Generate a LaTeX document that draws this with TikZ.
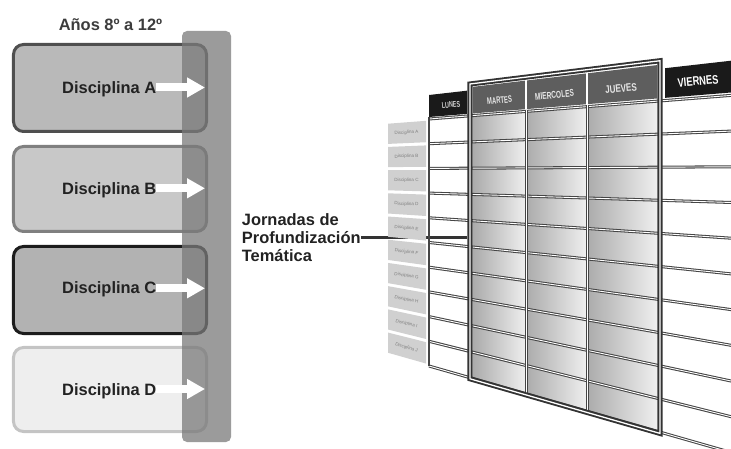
\documentclass[tikz,border=0pt]{standalone}
\usepackage{graphicx}
\usepackage{fontspec}
\setmainfont{Liberation Sans}
\usetikzlibrary{arrows.meta}
\definecolor{boxAf}{HTML}{B9B9B9}
\definecolor{boxAb}{HTML}{4F4F4F}
\definecolor{boxBf}{HTML}{C8C8C8}
\definecolor{boxBb}{HTML}{808080}
\definecolor{boxCf}{HTML}{B2B2B2}
\definecolor{boxCb}{HTML}{1C1C1C}
\definecolor{boxDf}{HTML}{EEEEEE}
\definecolor{boxDb}{HTML}{C4C4C4}
\definecolor{barC}{HTML}{7A7A7A}
\definecolor{txtC}{HTML}{222222}
\definecolor{ttlC}{HTML}{3C3C3C}
\definecolor{lineC}{HTML}{454545}
\definecolor{lineJ}{HTML}{333333}
\definecolor{frameC}{HTML}{333333}
\definecolor{hdrG}{HTML}{5E5E5E}
\definecolor{hdrK}{HTML}{1A1A1A}
\definecolor{hdrT}{HTML}{E6E6E6}
\definecolor{cellL}{HTML}{ABABAB}
\definecolor{cellR}{HTML}{EFEFEF}
\definecolor{lblF}{HTML}{D0D0D0}
\definecolor{lblT}{HTML}{808080}
\newcommand\PY[2]{(172+((#2)-172)/678*((#1)+249))}
\newcommand\Q[2]{(#1,{\PY{#1}{#2}})}
\begin{document}
\begin{tikzpicture}[x=1bp,y=-1bp,
  rowline/.style={draw=lineC, line width=1.05bp, double=white, double distance=0.9bp},
  framebox/.style={draw=frameC, line width=1.9bp, double=white, double distance=1.3bp, line join=miter},
  hdrtxt/.style={text=hdrT, inner sep=0},
  lbltxt/.style={text=lblT, font=\fontsize{4.6}{5}\selectfont, inner sep=0},
  disctxt/.style={font=\fontsize{16.5}{18.2}\selectfont\bfseries, text=txtC, inner sep=0},
  discbox/.style={rounded corners=10bp, line width=3bp, inner sep=0},
  wharrow/.style={draw=white, line width=8bp, -{Triangle[length=18bp,width=19bp]}}
]
\useasboundingbox (0,0) rectangle (731,449);
\clip (0,0) rectangle (731,449);

% ---------- left part ----------
\node[discbox, draw=boxAb, fill=boxAf, minimum width=193bp, minimum height=87bp] (bA) at (110,88) {};
\node[discbox, draw=boxBb, fill=boxBf, minimum width=193bp, minimum height=85bp] (bB) at (110,189) {};
\node[discbox, draw=boxCb, fill=boxCf, minimum width=193bp, minimum height=87bp] (bC) at (110,290) {};
\node[discbox, draw=boxDb, fill=boxDf, minimum width=193bp, minimum height=84bp] (bD) at (110,389.5) {};
\node[fill=barC, fill opacity=0.75, rounded corners=5bp, minimum width=49bp, minimum height=411bp, inner sep=0] (bar) at (206.5,236.5) {};

\node[font=\fontsize{16.5}{18.2}\selectfont\bfseries, text=ttlC, anchor=base, inner sep=0] (ttl) at (110.5,30.7) {Años 8º a 12º};

\node[disctxt, anchor=base west] (tA) at (62,93.3) {Disciplina A};
\node[disctxt, anchor=base west] (tB) at (62,194.3) {Disciplina B};
\node[disctxt, anchor=base west] (tC) at (62,294) {Disciplina C};
\node[disctxt, anchor=base west] (tD) at (62,395) {Disciplina D};
\coordinate (aA) at (205,87.5);
\coordinate (aB) at (205,188.3);
\coordinate (aC) at (205,288.3);
\coordinate (aD) at (205,389);
\draw[wharrow] (tA.east |- aA) -- (aA);
\draw[wharrow] (tB.east |- aB) -- (aB);
\draw[wharrow] (tC.east |- aC) -- (aC);
\draw[wharrow] (tD.east |- aD) -- (aD);

\node[disctxt, anchor=base west] (j1) at (241.7,225.3) {Jornadas de};
\node[disctxt, anchor=base west] (j2) at (241.7,243.5) {Profundización};
\node[disctxt, anchor=base west] (j3) at (241.7,261.7) {Temática};
\coordinate (jt) at (467,237.5);
\draw[line width=3bp, draw=lineJ] (j2.east |- jt) -- (jt);

% ---------- table ----------
\foreach \k/\L in {0/A,1/B,2/C,3/D,4/E,5/F,6/G,7/H,8/I,9/J}{
  \pgfmathsetmacro\ya{119+24.7*\k+1.6}
  \pgfmathsetmacro\yb{119+24.7*(\k+1)-1.6}
  \pgfmathsetmacro\yc{119+24.7*(\k+0.5)}
  \pgfmathsetmacro\yy{\PY{406.5}{\yc}}
  \pgfmathsetmacro\ang{atan((172-\yc)/678)}
  \fill[lblF] \Q{388}{\ya} -- \Q{426}{\ya} -- \Q{426}{\yb} -- \Q{388}{\yb} -- cycle;
  \node[lbltxt, rotate=\ang] (lab\L) at (406.5,\yy) {Disciplina \L};
}

\foreach \xa/\xb in {473/526,526/587,587/657}{
  \foreach \k in {0,...,9}{
    \pgfmathsetmacro\ya{119+24.7*\k}
    \pgfmathsetmacro\yb{119+24.7*(\k+1)}
    \shade[left color=cellL, right color=cellR] \Q{\xa}{\ya} -- \Q{\xb}{\ya} -- \Q{\xb}{\yb} -- \Q{\xa}{\yb} -- cycle;
  }
}

\fill[hdrK] \Q{429}{95} -- \Q{467}{95} -- \Q{467}{117} -- \Q{429}{117} -- cycle;
\fill[hdrG] \Q{473}{92} -- \Q{657}{92} -- \Q{657}{117} -- \Q{473}{117} -- cycle;
\fill[hdrK] \Q{665}{95} -- \Q{760}{95} -- \Q{760}{117} -- \Q{665}{117} -- cycle;
\foreach \xx in {526,587} \draw[white, line width=1.6bp] \Q{\xx}{91} -- \Q{\xx}{118};

\foreach \k in {0,...,10}{
  \pgfmathsetmacro\ya{119+24.7*\k}
  \draw[rowline] \Q{429}{\ya} -- \Q{760}{\ya};
}
\draw[draw=lineC, line width=1.5bp] \Q{429}{117} -- \Q{429}{366};
\foreach \xx in {526,587} \draw[rowline] \Q{\xx}{118} -- \Q{\xx}{366};

\draw[framebox] \Q{470}{89} -- \Q{660}{89} -- \Q{660}{367} -- \Q{470}{367} -- cycle;

\node[hdrtxt, text=hdrT!80!gray, font=\fontsize{8.5}{9}\selectfont\bfseries, rotate=5.5] (hL) at (451,104.9) {\scalebox{0.64}[1]{LUNES}};
\node[hdrtxt, font=\fontsize{9.5}{10}\selectfont\bfseries, rotate=5.5] (hM) at (499.5,100.2) {\scalebox{0.62}[1]{MARTES}};
\node[hdrtxt, font=\fontsize{10}{11}\selectfont\bfseries, rotate=5.5] (hX) at (554.5,95.0) {\scalebox{0.66}[1]{MIERCOLES}};
\node[hdrtxt, font=\fontsize{11}{12}\selectfont\bfseries, rotate=5.5] (hJ) at (621,88.6) {\scalebox{0.73}[1]{JUEVES}};
\node[hdrtxt, text=white, font=\fontsize{12.5}{13}\selectfont\bfseries, rotate=5.5] (hV) at (698,81.2) {\scalebox{0.75}[1]{VIERNES}};
\end{tikzpicture}
\end{document}
